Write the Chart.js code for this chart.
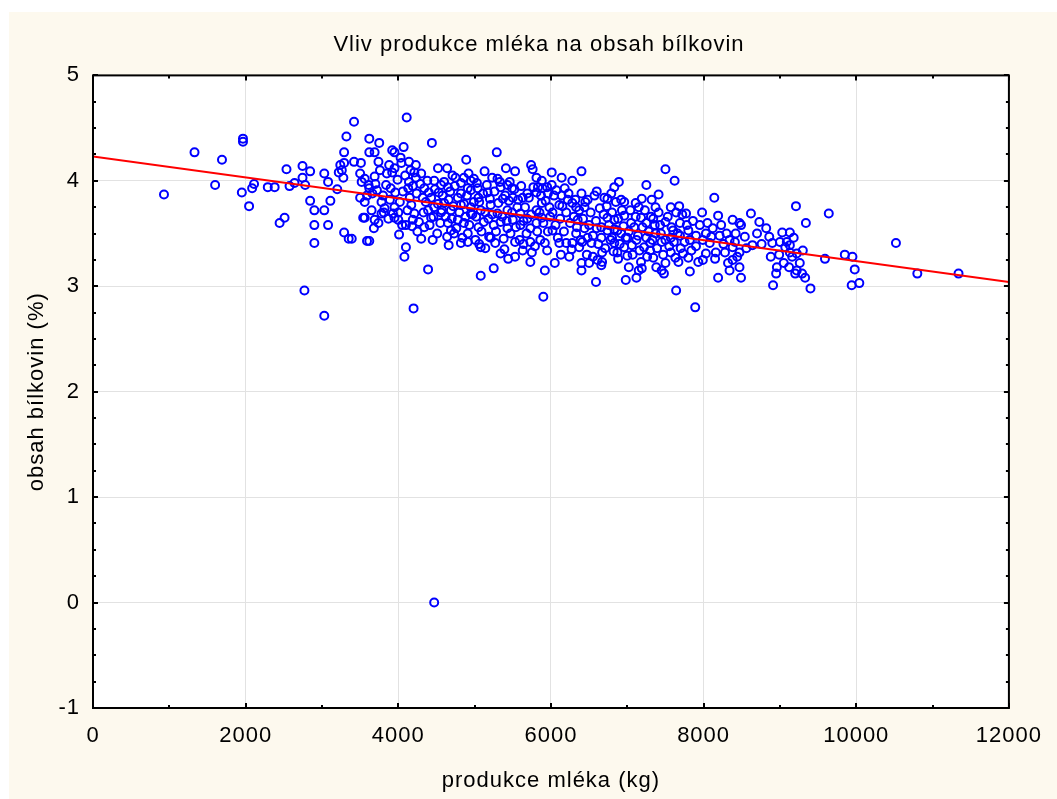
<!DOCTYPE html>
<html>
<head>
<meta charset="utf-8">
<script src="https://cdn.jsdelivr.net/npm/chart.js@4.4.1/dist/chart.umd.min.js"></script>
<style>
  html, body { margin: 0; padding: 0; background: #fff; }
</style>
</head>
<body>
<canvas id="graf" width="1057" height="799"></canvas>
<script>
// produkce mléka (kg) a obsah bílkovin (%), stejné pořadí
var produkce = [
  930, 1330, 1600, 1690, 1965, 1965, 1950, 2045, 2085, 2110,
  2290, 2380, 2445, 2510, 2535, 2575, 2640, 2745, 2745, 2780,
  2845, 2845, 2900, 2900, 2900, 2770, 3030, 3030, 3030, 3080,
  3080, 3110, 3200, 3220, 3260, 3240, 3290, 3280, 3290, 3290,
  3320, 3350, 3390, 3420, 3420, 3510, 3500, 3500, 3540, 3590,
  4110, 3620, 3750, 4440, 5290, 4070, 3920, 3950, 3620, 3690,
  3740, 4890, 4040, 4140, 4230, 4520, 4640, 5130, 5410, 5530,
  5740, 5760, 5810, 6010, 6140, 6280, 3850, 3920, 3950, 3690,
  3520, 3620, 3720, 3590, 3900, 3780, 3820, 3950, 4130, 4140,
  4230, 4300, 4210, 4470, 4560, 4530, 4650, 4710, 4750, 4400,
  4340, 4320, 4820, 4910, 4950, 4990, 4860, 4920, 5040, 5050,
  5170, 5230, 5300, 5340, 5430, 5460, 5490, 5500, 5370, 5630,
  5690, 5810, 5830, 5880, 5890, 5950, 5960, 6010, 6070, 6140,
  6180, 6220, 6280, 6330, 6110, 5980, 5880, 5810, 3560, 3650,
  3780, 4000, 4170, 4210, 4390, 4470, 4600, 4690, 4820, 4950,
  5080, 5210, 5300, 5430, 5560, 5600, 3560, 3690, 3810, 3950,
  4000, 4100, 4190, 4340, 4430, 4560, 4650, 4690, 4780, 4860,
  4950, 5050, 5120, 5180, 5250, 5340, 5430, 5500, 5600, 5690,
  5730, 5810, 5880, 3620, 4010, 4100, 4080, 4660, 4820, 4910,
  5010, 5080, 5140, 5210, 5270, 5340, 5440, 5530, 5530, 5630,
  5730, 5750, 5730, 5920, 5950, 6050, 5920, 5250, 5080, 4390,
  4200, 5900, 6020, 6110, 6200, 6280, 6330, 6240, 6400, 7500,
  7620, 7250, 7410, 7320, 6890, 6830, 6790, 6920, 6960, 6600,
  6700, 6740, 6400, 6480, 6440, 7110, 7190, 7150, 7370, 7570,
  7680, 7770, 7980, 8140, 8190, 8620, 9210, 8380, 8470, 8730,
  8860, 9030, 9130, 8640, 8900, 9000, 9070, 9130, 8880, 8960,
  8950, 8910, 9120, 9160, 8490, 8470, 8340, 8320, 8380, 8190,
  7890, 7640, 7820, 7800, 7930, 7990, 8030, 8160, 8280, 8380,
  8470, 8340, 8210, 8420, 8490, 8120, 8030, 7990, 8080, 7840,
  7730, 7630, 7670, 7570, 7500, 7450, 7480, 7380, 7340, 7300,
  7180, 7150, 7190, 7120, 7020, 6980, 7000, 6870, 6820, 6670,
  6670, 6610, 6660, 6500, 6400, 6400, 6590, 6370, 6480, 6350,
  6440, 6600, 6410, 6740, 6830, 6960, 7050, 7180, 7250, 7340,
  7430, 7500, 7600, 7690, 6740, 6920, 7000, 7120, 7250, 7370,
  7450, 7570, 7690, 7800, 7900, 6830, 6960, 7060, 7220, 7300,
  6870, 6800, 6660, 6530, 9640, 9340, 9090, 9300, 9130, 9220,
  9260, 9220, 9200, 9290, 9330, 9400, 9590, 9850, 9950, 9980,
  9940, 10040, 10520, 10800, 11340, 4470,
  // hustý střed mračna
  3560, 3610, 3660, 3700, 3760, 3800, 3840, 3870, 3890, 3930,
  3960, 3990, 4020, 4050, 4060, 4090, 4120, 4150, 4180, 4190,
  3680, 3740, 3880, 4030, 4160,
  4240, 4270, 4290, 4330, 4360, 4380, 4410, 4430, 4460, 4480,
  4510, 4520, 4550, 4580, 4600, 4620, 4640, 4660, 4680, 4700,
  4720, 4740, 4760, 4780, 4800, 4820, 4840, 4860, 4880, 4900,
  4930, 4950, 4970, 4990, 4250, 4300, 4450, 4570, 4730, 4910,
  5020, 5030, 5060, 5090, 5110, 5140, 5160, 5190, 5200, 5230,
  5260, 5280, 5310, 5330, 5360, 5380, 5400, 5420, 5450, 5470,
  5490, 5520, 5540, 5570, 5590, 5610, 5640, 5660, 5680, 5710,
  5740, 5770, 5790, 5820, 5850, 5870, 5900, 5930, 5960, 5990,
  5060, 5390, 5640, 5860,
  6020, 6040, 6060, 6090, 6120, 6150, 6170, 6200, 6230, 6250,
  6270, 6300, 6320, 6340, 6370, 6390, 6420, 6450, 6470, 6500,
  6520, 6550, 6570, 6590, 6620, 6640, 6660, 6690, 6710, 6730,
  6760, 6780, 6800, 6830, 6850, 6880, 6900, 6930, 6950, 6980,
  6130, 6550, 6880,
  7020, 7040, 7070, 7090, 7110, 7140, 7160, 7200, 7230, 7260,
  7280, 7310, 7330, 7360, 7390, 7410, 7440, 7470, 7500, 7530,
  7550, 7580, 7610, 7640, 7660, 7700, 7720, 7750, 7780, 7820,
  7860, 7900, 7950,
  8050, 8100, 8150, 8230, 8260, 8300, 8410, 8440, 8540, 8560,
  8700, 8760, 8820, 8990, 9050, 9180
];
var bilkoviny = [
  3.87, 4.27, 3.96, 4.20, 4.40, 4.37, 3.89, 3.76, 3.93, 3.97,
  3.94, 3.94, 3.60, 3.65, 4.11, 3.95, 3.98, 4.14, 4.03, 3.96,
  4.09, 3.81, 3.72, 3.58, 3.41, 2.96, 4.07, 3.72, 2.72, 3.99,
  3.58, 3.81, 3.92, 4.08, 4.10, 4.15, 4.17, 4.03, 4.27, 3.51,
  4.42, 3.45, 3.45, 4.56, 4.18, 4.17, 4.07, 3.84, 3.65, 3.43,
  4.60, 4.40, 4.36, 4.36, 4.27, 4.32, 4.29, 4.27, 4.27, 4.27,
  4.18, 4.20, 4.17, 4.18, 4.15, 4.12, 4.12, 4.09, 4.12, 4.09,
  4.15, 4.11, 4.03, 4.08, 4.03, 4.00, 4.07, 4.08, 4.12, 4.04,
  3.99, 3.93, 3.91, 3.86, 3.93, 3.80, 3.74, 3.75, 3.93, 3.99,
  4.03, 4.07, 4.08, 4.00, 3.96, 3.89, 3.94, 4.05, 4.03, 3.89,
  3.93, 3.84, 3.88, 3.93, 4.00, 4.02, 4.03, 4.07, 3.93, 3.84,
  3.89, 4.03, 4.02, 3.94, 3.96, 3.99, 3.93, 3.84, 3.83, 3.84,
  3.88, 3.89, 3.94, 4.00, 3.93, 3.94, 3.88, 3.96, 3.91, 3.86,
  3.93, 3.82, 3.79, 3.75, 3.77, 3.75, 3.79, 3.72, 3.80, 3.72,
  3.69, 3.70, 3.77, 3.69, 3.72, 3.75, 3.79, 3.72, 3.77, 3.75,
  3.72, 3.77, 3.69, 3.72, 3.75, 3.69, 3.65, 3.63, 3.70, 3.65,
  3.63, 3.58, 3.63, 3.56, 3.65, 3.70, 3.60, 3.53, 3.63, 3.60,
  3.69, 3.56, 3.61, 3.64, 3.58, 3.61, 3.55, 3.63, 3.58, 3.64,
  3.55, 3.60, 3.65, 3.43, 3.49, 3.37, 3.28, 3.39, 3.41, 3.42,
  3.44, 3.37, 3.36, 3.46, 3.41, 3.31, 3.26, 3.28, 3.42, 3.34,
  3.42, 3.32, 3.23, 3.41, 3.34, 3.22, 3.15, 3.17, 3.10, 3.16,
  2.79, 2.90, 3.53, 3.41, 3.41, 3.41, 3.50, 3.28, 4.09, 4.11,
  4.00, 3.96, 3.87, 3.82, 3.99, 3.94, 3.88, 3.82, 3.80, 3.90,
  3.84, 3.83, 3.88, 3.82, 3.75, 3.79, 3.83, 3.75, 3.75, 3.75,
  3.76, 3.69, 3.70, 3.84, 3.67, 3.69, 3.76, 3.63, 3.60, 3.61,
  3.47, 3.51, 3.51, 3.39, 3.41, 3.42, 3.37, 3.39, 3.28, 3.18,
  3.12, 3.01, 3.18, 3.28, 3.08, 3.18, 3.15, 3.22, 3.25, 3.08,
  2.80, 2.96, 3.14, 3.27, 3.23, 3.25, 3.31, 3.32, 3.32, 3.37,
  3.32, 3.44, 3.48, 3.50, 3.58, 3.55, 3.50, 3.44, 3.41, 3.34,
  3.31, 3.27, 3.23, 3.32, 3.22, 3.15, 3.12, 3.18, 3.27, 3.34,
  3.23, 3.15, 3.17, 3.08, 3.18, 3.06, 3.29, 3.32, 3.33, 3.32,
  3.23, 3.25, 3.20, 3.22, 3.22, 3.15, 3.04, 3.37, 3.46, 3.63,
  3.55, 3.55, 3.42, 3.65, 3.63, 3.67, 3.60, 3.65, 3.60, 3.64,
  3.58, 3.61, 3.53, 3.60, 3.53, 3.50, 3.46, 3.44, 3.46, 3.50,
  3.42, 3.46, 3.48, 3.53, 3.48, 3.41, 3.37, 3.39, 3.37, 3.41,
  3.53, 3.46, 3.46, 3.41, 3.69, 3.60, 3.42, 3.34, 3.32, 3.31,
  3.22, 3.15, 3.12, 3.12, 3.08, 2.98, 3.26, 3.30, 3.28, 3.16,
  3.01, 3.03, 3.41, 3.12, 3.12, 0.00,
  // hustý střed mračna
  4.02, 3.96, 3.88, 3.97, 4.10, 3.86, 3.96, 3.64, 3.82, 3.69,
  3.89, 4.01, 3.80, 3.58, 3.90, 4.05, 3.72, 3.84, 3.57, 3.95,
  3.55, 3.60, 4.15, 4.22, 4.10,
  3.88, 3.61, 3.97, 3.70, 3.80, 4.00, 3.58, 3.84, 3.66, 3.92,
  3.50, 3.78, 3.60, 3.86, 3.99, 3.66, 3.47, 3.82, 3.90, 3.64,
  3.76, 3.95, 3.55, 3.84, 3.70, 3.98, 3.46, 3.78, 3.66, 3.86,
  3.58, 3.91, 3.68, 3.80, 3.52, 3.45, 3.44, 3.72, 3.50, 3.50,
  3.66, 3.98, 3.80, 3.52, 3.88, 3.70, 3.96, 3.47, 3.83, 3.68,
  3.90, 3.52, 3.79, 3.99, 3.66, 3.45, 3.86, 3.62, 3.81, 3.50,
  3.70, 3.92, 3.56, 3.82, 3.44, 3.95, 3.62, 3.75, 3.50, 3.84,
  3.68, 3.94, 3.38, 3.52, 3.70, 3.86, 3.60, 3.81, 3.52, 3.66,
  3.40, 3.35, 3.40, 3.44,
  3.70, 3.86, 3.58, 3.46, 3.64, 3.76, 3.52, 3.70, 3.88, 3.60,
  3.35, 3.66, 3.82, 3.56, 3.72, 3.44, 3.64, 3.80, 3.30, 3.58,
  3.70, 3.48, 3.86, 3.62, 3.40, 3.74, 3.56, 3.68, 3.36, 3.76,
  3.58, 3.44, 3.70, 3.54, 3.80, 3.64, 3.40, 3.72, 3.57, 3.46,
  3.30, 3.28, 3.26,
  3.52, 3.72, 3.30, 3.56, 3.66, 3.48, 3.34, 3.56, 3.72, 3.28,
  3.52, 3.66, 3.44, 3.58, 3.36, 3.70, 3.50, 3.30, 3.44, 3.66,
  3.38, 3.56, 3.42, 3.70, 3.50, 3.36, 3.68, 3.42, 3.58, 3.44,
  3.62, 3.38, 3.58,
  3.60, 3.47, 3.26, 3.58, 3.40, 3.50, 3.42, 3.28, 3.47, 3.36,
  3.50, 3.40, 3.55, 3.30, 3.22, 3.46
];

// regresní přímka (koncové body na okrajích osy x)
var regreseX = [0, 12000];
var regreseY = [4.23, 3.04];

var xTicks = [0, 2000, 4000, 6000, 8000, 10000, 12000];
var yTicks = [-1, 0, 1, 2, 3, 4, 5];

var pismo = 'Liberation Sans, Arial, sans-serif';

var body = [];
var n = Math.min(produkce.length, bilkoviny.length);
for (var i = 0; i < n; i++) {
  body.push({ x: produkce[i], y: bilkoviny[i] });
}
var primka = regreseX.map(function(x, i) { return { x: x, y: regreseY[i] }; });

// trochu prostrkané písmo jako v originálu
var prolozeni = {
  id: 'prolozeni',
  beforeUpdate(chart) { chart.ctx.letterSpacing = '1px'; },
  beforeDraw(chart) { chart.ctx.letterSpacing = '1px'; },
  // nadpis je v originálu posunutý trochu doprava
  afterLayout(chart) { if (chart.titleBlock) chart.titleBlock.left += 50; }
};

// krémové pozadí a bílá plocha grafu
var pozadi = {
  id: 'pozadi',
  beforeDraw(chart) {
    var ctx = chart.ctx, a = chart.chartArea;
    ctx.save();
    ctx.fillStyle = '#fdf9ee';
    ctx.fillRect(9, 12, chart.width - 9, chart.height - 12);
    ctx.fillStyle = '#ffffff';
    ctx.fillRect(a.left, a.top, a.right - a.left, a.bottom - a.top);
    ctx.restore();
  }
};

// rámeček s malými značkami dovnitř
var ramecek = {
  id: 'ramecek',
  afterDatasetsDraw(chart) {
    var ctx = chart.ctx, a = chart.chartArea;
    var sx = chart.scales.x, sy = chart.scales.y;
    ctx.save();
    ctx.strokeStyle = '#000';
    ctx.lineWidth = 2;
    ctx.strokeRect(a.left, a.top, a.right - a.left, a.bottom - a.top);
    ctx.beginPath();
    for (var v = sx.min; v <= sx.max; v += 1000) {
      var px = Math.round(sx.getPixelForValue(v));
      var len = v % 2000 === 0 ? 5 : 3;
      ctx.moveTo(px, a.bottom); ctx.lineTo(px, a.bottom - len);
      ctx.moveTo(px, a.top); ctx.lineTo(px, a.top + len);
    }
    for (var k = 0; k <= 24; k++) {
      var val = sy.min + k * 0.25;
      var py = Math.round(sy.getPixelForValue(val));
      var len2 = k % 4 === 0 ? 5 : 3;
      ctx.moveTo(a.left, py); ctx.lineTo(a.left + len2, py);
      ctx.moveTo(a.right, py); ctx.lineTo(a.right - len2, py);
    }
    ctx.stroke();
    ctx.restore();
  }
};

var ctx = document.getElementById('graf').getContext('2d');
var graf = new Chart(ctx, {
  type: 'scatter',
  data: {
    datasets: [{
      type: 'line',
      label: 'regrese',
      data: primka,
      borderColor: '#ff0000',
      borderWidth: 2,
      pointRadius: 0,
      fill: false,
      tension: 0
    }, {
      type: 'scatter',
      label: 'obsah bílkovin',
      data: body,
      pointRadius: 4,
      pointHoverRadius: 4,
      borderWidth: 2,
      borderColor: '#0000ff',
      backgroundColor: 'rgba(0,0,0,0)'
    }]
  },
  options: {
    responsive: false,
    animation: false,
    events: [],
    layout: {
      padding: { left: 9, right: 38, top: 12, bottom: 0 }
    },
    plugins: {
      legend: { display: false },
      tooltip: { enabled: false },
      title: {
        display: true,
        text: 'Vliv produkce mléka na obsah bílkovin',
        color: '#000',
        font: { family: pismo, size: 22, weight: 'normal' },
        padding: { top: 20, bottom: 17 }
      }
    },
    scales: {
      x: {
        type: 'linear',
        min: 0,
        max: 12000,
        afterBuildTicks: function(s) { s.ticks = xTicks.map(function(v) { return { value: v }; }); },
        afterFit: function(s) { s.height = 91; },
        ticks: {
          color: '#000',
          font: { family: pismo, size: 22 },
          padding: 15,
          maxRotation: 0,
          callback: function(v) { return String(v); }
        },
        grid: { color: '#e2e2e2', drawTicks: false },
        border: { display: false },
        title: {
          display: true,
          text: 'produkce mléka (kg)',
          color: '#000',
          font: { family: pismo, size: 22 },
          padding: { top: 0, bottom: 5 }
        }
      },
      y: {
        type: 'linear',
        min: -1,
        max: 5,
        afterBuildTicks: function(s) { s.ticks = yTicks.map(function(v) { return { value: v }; }); },
        afterFit: function(s) { s.width = 84; },
        ticks: {
          color: '#000',
          font: { family: pismo, size: 22 },
          padding: 13,
          callback: function(v) { return String(v); }
        },
        grid: { color: '#e2e2e2', drawTicks: false },
        border: { display: false },
        title: {
          display: true,
          text: 'obsah bílkovin (%)',
          color: '#000',
          font: { family: pismo, size: 22 },
          padding: { top: 15, bottom: 0 }
        }
      }
    }
  },
  plugins: [prolozeni, pozadi, ramecek]
});
</script>
</body>
</html>
